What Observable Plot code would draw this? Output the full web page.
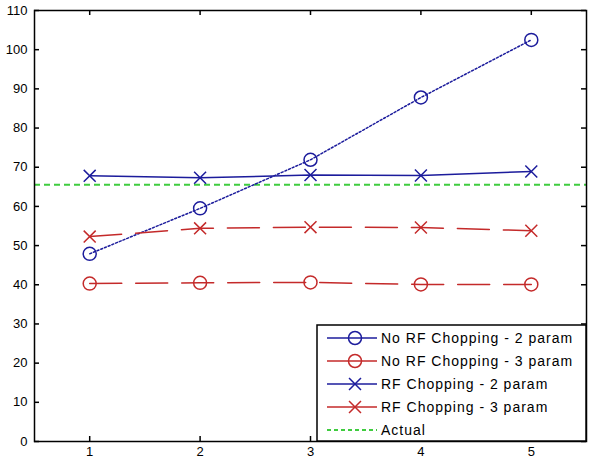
<!DOCTYPE html>
<html><head><meta charset="utf-8">
<script src="https://cdn.jsdelivr.net/npm/d3@7"></script>
<script src="https://cdn.jsdelivr.net/npm/@observablehq/plot@0.6"></script>
<style>html,body{margin:0;padding:0;background:#fff} svg{display:block}</style>
</head><body><div id="chart"></div>
<script>
// ---- data ----
const runs = [1, 2, 3, 4, 5];
const noRF2 = [47.9, 59.5, 71.9, 87.8, 102.5];
const noRF3 = [40.3, 40.5, 40.6, 40.1, 40.1];
const rf2 = [67.8, 67.3, 68.0, 67.9, 68.9];
const rf3 = [52.3, 54.4, 54.7, 54.6, 53.8];
const actual = 65.5;
const seriesNames = ["No RF Chopping - 2 param", "No RF Chopping - 3 param", "RF Chopping - 2 param", "RF Chopping - 3 param", "Actual"];
const xTicks = [1, 2, 3, 4, 5];
const yTicks = [0, 10, 20, 30, 40, 50, 60, 70, 80, 90, 100, 110];

// ---- style ----
const BLUE = "#1c1c9c", RED = "#c42a2a", GREEN = "#3fcc3f";
const W = 600, H = 469, mL = 34, mR = 14, mT = 10, mB = 28;
const fw = W - mL - mR, fh = H - mT - mB, T = 5;

const rows = vals => runs.map((r, i) => ({x: r, y: vals[i]}));
const series = [
  {name: seriesNames[0], data: rows(noRF2), color: BLUE, dash: "2,2", symbol: "circle"},
  {name: seriesNames[1], data: rows(noRF3), color: RED, dash: "32,14", symbol: "circle"},
  {name: seriesNames[2], data: rows(rf2), color: BLUE, dash: null, symbol: "times"},
  {name: seriesNames[3], data: rows(rf3), color: RED, dash: "32,14", symbol: "times"}
];

const marks = [
  Plot.ruleY([actual], {stroke: GREEN, strokeWidth: 2, strokeDasharray: "6,4"})
];
for (const s of series) {
  marks.push(Plot.line(s.data, {x: "x", y: "y", stroke: s.color, strokeWidth: 1.5, strokeDasharray: s.dash}));
  marks.push(Plot.dot(s.data, {x: "x", y: "y", stroke: s.color, strokeWidth: 1.5, fill: "none",
    symbol: s.symbol, r: s.symbol === "circle" ? 6.5 : 5.5}));
}
marks.push(
  Plot.tickY(yTicks, {y: d => d, insetRight: fw - T, stroke: "black", strokeWidth: 1.5}),
  Plot.tickY(yTicks, {y: d => d, insetLeft: fw - T, stroke: "black", strokeWidth: 1.5}),
  Plot.tickX(xTicks, {x: d => d, insetTop: fh - T, stroke: "black", strokeWidth: 1.5}),
  Plot.tickX(xTicks, {x: d => d, insetBottom: fh - T, stroke: "black", strokeWidth: 1.5}),
  Plot.frame({stroke: "black", strokeWidth: 1.5}),
  Plot.axisX(xTicks, {tickSize: 0, tickPadding: 5, label: null}),
  Plot.axisY(yTicks, {tickSize: 0, tickPadding: 7, label: null})
);

const plot = Plot.plot({
  width: W, height: H,
  marginLeft: mL, marginRight: mR, marginTop: mT, marginBottom: mB,
  x: {domain: [0.5, 5.5], label: null},
  y: {domain: [0, 110], label: null},
  style: {fontFamily: "'Liberation Sans', Arial, sans-serif", fontSize: "13px", color: "black", background: "white", overflow: "visible"},
  marks
});
document.getElementById("chart").append(plot);

// ---- legend (inside the axes, bottom-right) ----
const svg = d3.select(plot);
const lw = 269, lh = 116;
const lx = W - mR - lw, ly = H - mB - lh;
const lg = svg.append("g").attr("text-anchor", "start");
lg.append("rect").attr("x", lx).attr("y", ly).attr("width", lw).attr("height", lh)
  .attr("fill", "white").attr("stroke", "black").attr("stroke-width", 1.5);
const entries = [
  {name: seriesNames[0], color: BLUE, symbol: d3.symbolCircle, r: 6.5, dash: null},
  {name: seriesNames[1], color: RED, symbol: d3.symbolCircle, r: 6.5, dash: null},
  {name: seriesNames[2], color: BLUE, symbol: d3.symbolTimes, r: 5.5, dash: null},
  {name: seriesNames[3], color: RED, symbol: d3.symbolTimes, r: 5.5, dash: null},
  {name: seriesNames[4], color: GREEN, symbol: null, r: 0, dash: "4,3"}
];
entries.forEach((e, i) => {
  const cy = ly + 13 + i * 23;
  lg.append("line").attr("x1", lx + 10).attr("x2", lx + 60).attr("y1", cy).attr("y2", cy)
    .attr("stroke", e.color).attr("stroke-width", e.symbol ? 1.5 : 2).attr("stroke-dasharray", e.dash);
  if (e.symbol) {
    lg.append("path").attr("transform", `translate(${lx + 38},${cy})`)
      .attr("d", d3.symbol(e.symbol, e.r * e.r * Math.PI)())
      .attr("fill", "none").attr("stroke", e.color).attr("stroke-width", 1.5);
  }
  lg.append("text").attr("x", lx + 64).attr("y", cy).attr("dy", "0.36em").attr("text-anchor", "start")
    .attr("font-size", 14).attr("letter-spacing", 1).attr("fill", "black").text(e.name);
});
</script>
</body></html>
